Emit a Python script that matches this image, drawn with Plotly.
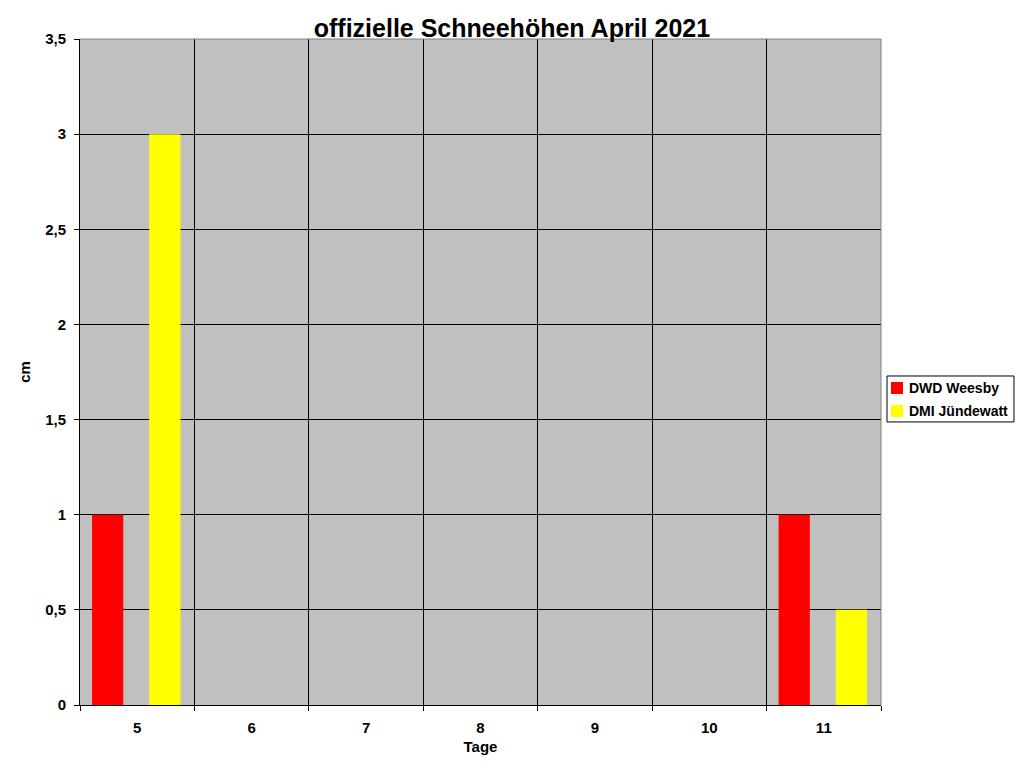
"""Snow depth chart: offizielle Schneehöhen April 2021."""
import plotly.graph_objects as go

DAYS = ["5", "6", "7", "8", "9", "10", "11"]
DWD_WEESBY = [1, 0, 0, 0, 0, 0, 1]
DMI_JUENDEWATT = [3, 0, 0, 0, 0, 0, 0.5]
SERIES_NAMES = ["DWD Weesby", "DMI Jündewatt"]

RED = "#FF0000"
YELLOW = "#FFFF00"
GREY = "#C0C0C0"
FONT = "Liberation Sans, Arial, sans-serif"

fig = go.Figure()
# Excel-style placement: bars sit left/right inside each category slot
fig.add_trace(go.Bar(x=DAYS, y=DWD_WEESBY, name=SERIES_NAMES[0], marker_color=RED,
                     marker_line_width=0, width=0.273, offset=-0.395))
fig.add_trace(go.Bar(x=DAYS, y=DMI_JUENDEWATT, name=SERIES_NAMES[1], marker_color=YELLOW,
                     marker_line_width=0, width=0.273, offset=0.105))

# page body has an 8px margin, so the figure is 8px smaller than the window
fig.update_layout(
    width=1016, height=760,
    margin={"l": 72, "r": 143, "t": 31, "b": 63},
    paper_bgcolor="white",
    plot_bgcolor=GREY,
    separators=",.",
    showlegend=False,
    font={"family": FONT, "size": 15, "color": "black"},
    title={"text": "<b>offizielle Schneehöhen April 2021</b>", "x": 0.496, "xanchor": "center",
           "y": 0.9737, "yanchor": "middle", "font": {"size": 25, "family": FONT}},
    barmode="overlay",
    xaxis={"type": "category", "categoryorder": "array", "categoryarray": DAYS,
           "range": [-0.5, 6.5], "tickson": "boundaries", "showgrid": True,
           "gridcolor": "black", "gridwidth": 1, "showline": True, "linecolor": "black",
           "ticks": "outside", "ticklen": 5, "tickcolor": "black", "ticklabelstandoff": 9,
           "automargin": False, "tickfont": {"size": 15, "family": FONT},
           "title": {"text": "<b>Tage</b>", "standoff": 6, "font": {"size": 15}}},
    yaxis={"range": [0, 3.5], "dtick": 0.5, "showgrid": True, "gridcolor": "black",
           "gridwidth": 1, "zeroline": False, "showline": True, "linecolor": "black",
           "ticks": "outside", "ticklen": 5, "tickcolor": "black", "ticklabelstandoff": 5,
           "automargin": False, "tickfont": {"size": 15, "family": FONT},
           "title": {"text": "<b>cm</b>", "standoff": 10, "font": {"size": 15}}},
)
fig.update_xaxes(tickprefix="<b>", ticksuffix="</b>")
fig.update_yaxes(tickprefix="<b>", ticksuffix="</b>")

# grey frame on top and right edges of the plot area
fig.add_shape(type="line", xref="paper", yref="paper", x0=0, x1=1, y0=1, y1=1,
              line={"color": "#808080", "width": 1})
fig.add_shape(type="line", xref="paper", yref="paper", x0=1, x1=1, y0=0, y1=1,
              line={"color": "#808080", "width": 1})

# legend drawn by hand so swatches stay small like the original
fig.add_shape(type="rect", xref="paper", yref="paper", x0=1.0075, x1=1.166, y0=0.425, y1=0.494,
              line={"color": "black", "width": 1}, fillcolor="white")
swatches = [(RED, 0.467, 0.485, 0.476), (YELLOW, 0.4324, 0.4505, 0.4414)]
for name, (col, y0, y1, yc) in zip(SERIES_NAMES, swatches):
    fig.add_shape(type="rect", xref="paper", yref="paper", x0=1.0125, x1=1.0275, y0=y0, y1=y1,
                  line={"width": 0}, fillcolor=col)
    fig.add_annotation(xref="paper", yref="paper", x=1.0325, y=yc, xanchor="left",
                       yanchor="middle", text=f"<b>{name}</b>", showarrow=False,
                       font={"size": 14, "family": FONT})

fig.write_html("out.html")
